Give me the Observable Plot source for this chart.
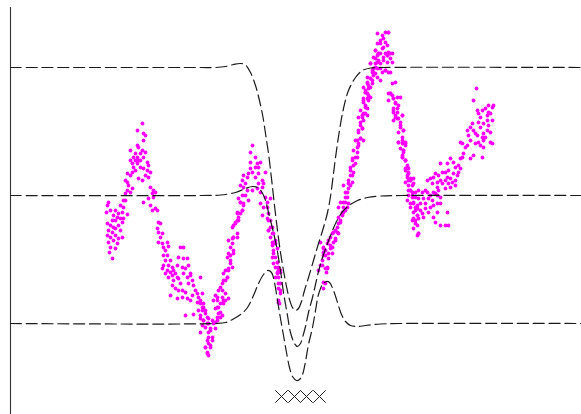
<!DOCTYPE html>
<html>
<head>
<meta charset="utf-8">
<script src="https://cdn.jsdelivr.net/npm/d3@7"></script>
<script src="https://cdn.jsdelivr.net/npm/@observablehq/plot@0.6"></script>
<style>
  html, body { margin: 0; padding: 0; background: #fff; }
  #chart svg { display: block; }
</style>
</head>
<body>
<div id="chart"></div>
<script>
// Observations (x, y)
const obsPoints = [
  // start cluster
  [97,-10],[98,-7],[105,-15],[103,-20],[107,-22],[108,-18],[112,-17],[113,-12],[117,-19],[102,-25],[105,-25],[110,-23],[113,-23],[97,-28],[100,-30],[103,-32],[108,-30],[112,-27],[98,-35],[102,-37],[105,-33],[110,-35],[97,-40],[100,-42],[105,-40],[108,-43],[112,-42],[98,-47],[103,-45],[107,-48],[100,-52],[105,-53],[99,-57],[102,-63],
  [96,-17],[100,-15],[110,-10],[115,-5],
  // first peak
  [113,-5],[115,2],[117,5],[120,3],[122,7],[118,10],[117,13],[115,15],[117,22],[120,20],[122,23],[123,28],[122,32],[125,35],[127,32],[123,38],[125,42],[127,38],[128,35],[130,42],[132,45],[133,38],[135,43],[137,33],[138,30],[137,25],[140,23],[138,18],[133,27],[130,28],[128,17],[132,15],[127,50],[128,48],[133,55],[127,65],[132,72],[133,62],[135,60],
  [120,35],[130,35],[125,25],[135,20],[120,45],
  // descent
  [140,8],[143,5],[145,3],[142,2],[143,-2],[138,-3],[133,-7],[140,-10],[142,-15],[145,-13],[147,-15],[148,-27],[150,-28],[147,-33],[148,-37],[152,-38],[150,-42],[148,-47],[152,-48],[157,-47],[158,-51],[153,-52],[155,-55],
  // lower cluster
  [153,-60],[157,-60],[155,-65],[160,-65],[153,-70],[158,-70],[162,-72],[152,-73],[157,-75],[160,-77],[163,-75],[155,-78],[162,-80],[165,-78],[167,-82],[158,-82],[163,-85],[168,-83],[170,-88],[162,-90],[165,-93],[172,-95],[175,-97],[168,-95],[160,-100],[167,-103],[172,-102],[177,-103],[180,-105],[170,-52],[173,-52],[168,-62],[173,-63],[177,-63],[167,-70],[172,-72],[175,-73],[178,-70],[173,-78],[177,-82],[180,-80],[182,-85],[178,-88],[183,-90],[185,-95],[187,-98],[182,-100],[188,-102],[180,-78],
  // first trough
  [187,-107],[190,-108],[193,-112],[188,-115],[192,-115],[195,-118],[190,-123],[193,-125],[198,-123],[202,-125],[197,-128],[203,-128],[207,-125],[192,-130],[195,-132],[200,-133],[205,-133],[190,-137],[198,-137],[202,-142],[197,-145],[198,-148],[200,-150],[195,-152],[197,-157],[198,-160],[175,-120],[183,-119],
  // rise to second peak
  [190,-82],[192,-98],[190,-105],[193,-108],[192,-112],[195,-115],[190,-120],[193,-125],[197,-122],[198,-128],[200,-135],[198,-142],[202,-145],[200,-152],[197,-158],[195,-152],[205,-113],[207,-112],[208,-118],[210,-122],[203,-105],[207,-102],[210,-108],[213,-105],[212,-95],[215,-98],[213,-85],[217,-82],[215,-75],[218,-73],[222,-72],[220,-65],[218,-58],[223,-55],[222,-48],[223,-42],[227,-38],[225,-28],[228,-25],[227,-18],[232,-15],[233,-8],[230,-7],
  [205,-100],[208,-95],[210,-92],[207,-105],[212,-102],[213,-108],[208,-112],[210,-117],[212,-120],[207,-122],[205,-127],[215,-105],[218,-103],[212,-88],[215,-85],[217,-82],[213,-78],[218,-75],[220,-68],[217,-62],[220,-60],[223,-58],[220,-52],[218,-45],[222,-43],[223,-42],[227,-42],[222,-32],[223,-30],[225,-27],[227,-25],[228,-22],[230,-18],[227,-17],[232,-15],[233,-10],[230,-7],[228,-3],[232,0],[235,0],[238,-5],[237,5],[233,8],[230,10],[235,12],[232,15],[237,18],[233,20],[238,22],[242,23],[240,27],[245,28],[247,32],[248,28],[250,33],[245,38],[240,43],[242,50],[240,33],
  [245,18],[248,22],[252,15],[253,12],[248,12],[255,23],[252,8],[247,7],[242,5],[250,3],
  // second descent
  [255,-2],[257,-12],[258,-18],[260,-3],[260,-25],[257,-23],[262,-32],[258,-35],[263,-38],[260,-42],[265,-45],[262,-50],[267,-53],[263,-58],[265,-62],[267,-67],[263,-68],[268,-72],[270,-75],[267,-77],[265,-82],[268,-82],[270,-88],[268,-93],[270,-98],[268,-107],
  [250,-8],[252,-20],[253,-12],[257,-7],[258,-25],[260,-32],[262,-38],[258,-35],[262,-47],[265,-48],[263,-55],[262,-62],[267,-67],[265,-72],[268,-75],[267,-78],[270,-77],[268,-88],[270,-95],[268,-105],[269,-108],
  // right rise
  [308,-75],[310,-70],[312,-65],[313,-60],[315,-55],[313,-52],[317,-48],[318,-45],[320,-42],[322,-38],[323,-37],[325,-35],[327,-32],[328,-28],[330,-25],[332,-20],[333,-17],[335,-15],[337,-12],[338,-8],[333,-7],[318,-58],[322,-52],[325,-45],[328,-38],[315,-73],[317,-72],[313,-87],[315,-88],[313,-93],[322,-58],[320,-53],
  [310,-47],[313,-53],[315,-60],[318,-63],[312,-70],[317,-73],[316,-77],[313,-57],[320,-50],[323,-47],[325,-43],[327,-37],[330,-27],[328,-22],[332,-17],[333,-12],[335,-7],[337,-2],[335,3],[338,7],[340,10],[338,15],[342,20],[340,25],[343,30],[342,37],[345,38],[347,43],[348,50],[347,55],[350,57],[348,63],[352,67],[350,73],[352,78],[353,82],[355,88],[353,93],[357,97],[355,103],[358,107],[357,113],[360,117],[362,123],[363,127],[360,132],[365,137],[368,142],[365,145],[367,152],[370,155],[372,160],[375,163],[378,163],[373,148],[377,140],[380,137],
  [328,-12],[330,-7],[335,-2],[337,3],[333,10],[338,12],[342,13],[340,20],[343,23],[340,28],[345,32],[342,35],[347,38],[343,45],[347,48],[348,52],[345,55],[350,57],[353,55],[348,65],[352,67],[350,70],[353,75],[352,80],[355,82],[348,78],[357,87],[355,90],[353,97],[358,95],[360,98],[357,102],[355,105],[353,108],[358,110],[362,112],[360,117],[357,118],[363,120],[365,122],[362,125],[367,127],[365,132],[368,135],[367,140],[370,142],[373,138],[377,140],[380,142],[372,123],[375,125],[378,123],[382,112],[380,102],[383,97],[383,85],[385,78],
  // top peak
  [367,162],[378,163],[370,152],[373,157],[375,153],[377,150],[372,147],[365,145],[368,142],[375,142],[378,143],[382,142],[363,138],[367,133],[370,132],[373,135],[377,133],[382,133],[360,132],[365,128],[370,127],[375,125],[380,123],[363,123],[367,118],[362,115],[370,115],[357,112],[360,108],[355,103],[358,100],[353,95],[350,85],[352,80],[357,80],[385,113],[380,102],[378,95],[385,92],[387,87],[383,83],[392,80],[387,77],[390,68],[393,65],[392,55],[388,53],[395,52],[393,45],[392,40],[395,35],[397,28],[398,22],[400,15],[395,13],[403,12],[398,5],[402,3],
  // right descent
  [378,102],[382,100],[383,97],[387,98],[385,93],[388,90],[383,87],[387,83],[385,80],[388,77],[383,75],[390,70],[388,63],[388,53],[392,52],[390,47],[395,50],[393,43],[392,38],[395,35],[397,30],[395,27],[398,23],[397,18],[400,15],[398,10],[400,5],[402,0],[403,-7],[400,-8],[405,-12],[407,-13],[403,-17],[407,-20],[405,-25],[407,-30],[408,-38],
  // right trough
  [390,98],[392,80],[390,73],[393,65],[392,58],[395,53],[393,45],[392,38],[395,35],[397,28],[398,27],[395,25],[397,20],[400,17],[398,15],[403,17],[402,10],[400,5],[405,3],[408,5],[412,3],[415,5],[417,3],[420,0],[423,3],[425,2],[402,-2],[405,-2],[408,-3],[413,-3],[418,-3],[422,-5],[403,-8],[407,-10],[410,-8],[415,-8],[420,-12],[423,-10],[427,-8],[400,-12],[405,-15],[410,-15],[415,-13],[418,-17],[412,-18],[407,-20],[403,-23],[402,-25],[408,-23],[413,-22],[423,-22],[425,-27],[430,-30],[435,-30],[438,-30],[427,-17],[437,-17],[405,-28],[403,-33],[408,-38],[407,-40],[397,-5],[398,0],[430,-8],
  // final rise
  [417,15],[420,17],[423,18],[425,22],[428,20],[422,12],[427,13],[430,15],[432,12],[435,15],[437,18],[440,17],[438,12],[442,13],[445,15],[447,20],[443,22],[448,23],[450,27],[448,30],[445,28],[443,33],[440,37],[438,25],[435,7],[440,8],[445,10],[450,37],[452,38],[453,42],[455,48],[457,50],[452,52],[450,53],[458,60],[457,65],[460,68],[462,72],[463,65],[465,62],[467,60],[460,55],[465,52],[468,53],[470,50],[473,55],[472,58],[473,62],[477,65],[470,68],[468,73],[473,72],[470,78],[477,75],[478,70],[480,63],[480,53],[473,48],[472,38],[460,37],[463,40],[468,82],[472,85],[475,87],[478,83],[480,82],[482,88],[483,90],[477,80],[482,75],[478,90],[463,95],[466,107],[467,85],[482,52],[475,58],[430,32],[437,32],[432,23],[435,23],[427,8],[427,0],[430,-2],[428,5]
];

// Posterior mean
const meanCurve = [
  [0,0],[190,0],[210,0.5],[225,3],[235,7],[242,9],[247,8],[251,4],[255,-5],[258,-17],[262,-33],[266,-51],[270,-75],[273,-97],[277,-120],[280,-137],[284,-148],[287,-151],[290,-148],[292,-142],[295,-131],[298,-117],[302,-102],[305,-89],[308,-76],[312,-62],[317,-48],[322,-35],[327,-24],[333,-15],[340,-9],[347,-5],[357,-2],[370,-0.5],[390,0],[571,0]
];
// Upper bound
const upperCurve = [
  [0,128],[190,128],[205,128],[215,129],[223,131],[230,132],[235,130.5],[240,123],[245,110],[248,99],[252,81],[255,62],[258,42],[261,17],[264,-10],[267,-35],[270,-57],[273,-75],[276,-91],[279,-104],[282,-112],[285,-115],[288,-113],[291,-106],[294,-95],[298,-82],[303,-65],[308,-48],[313,-32],[317,-17],[320,-1],[324,30],[328,59],[333,87],[338,105],[345,118],[352,125],[360,127.5],[370,128],[571,128]
];
// Lower bound
const lowerCurve = [
  [0,-128],[205,-128],[215,-127],[222,-124],[230,-119],[237,-112],[243,-100],[248,-88],[253,-79],[257,-75],[261,-77],[264,-87],[267,-105],[270,-123],[273,-140],[276,-157],[279,-172],[282,-181],[286,-185],[289,-184],[292,-179],[295,-166],[298,-149],[302,-132],[305,-115],[308,-99],[312,-89],[316,-86],[319,-87],[323,-95],[327,-107],[331,-119],[335,-126],[340,-130],[347,-131],[355,-130],[370,-128.5],[390,-128],[571,-128]
];
// Inducing points
const inducingX = [271, 284, 296, 309];
const inducingY = [-201, -201, -201, -201];

const obs = obsPoints.map(([x, y]) => ({x, y}));
const toRows = (arr) => arr.map(([x, y]) => ({x, y}));
const inducing = inducingX.map((x, i) => ({x, y: inducingY[i]}));

const dash = {stroke: "#1a1a1a", strokeWidth: 1.2, strokeDasharray: "11,4.8", curve: "catmull-rom"};

const chart = Plot.plot({
  width: 581,
  height: 414,
  marginLeft: 10,
  marginRight: 0,
  marginTop: 7,
  marginBottom: 0,
  x: {domain: [0, 571], axis: null},
  y: {domain: [-219, 188], axis: null},
  marks: [
    Plot.ruleX([0], {stroke: "#333", strokeWidth: 1.1}),
    Plot.dot(obs, {x: "x", y: "y", r: 1.9, fill: "#ff00ff", stroke: null}),
    Plot.line(toRows(upperCurve), {x: "x", y: "y", ...dash}),
    Plot.line(toRows(meanCurve), {x: "x", y: "y", ...dash}),
    Plot.line(toRows(lowerCurve), {x: "x", y: "y", ...dash}),
    Plot.dot(inducing, {x: "x", y: "y", symbol: "times", r: 5.7, stroke: "#222", strokeWidth: 1})
  ]
});
document.getElementById("chart").append(chart);
</script>
</body>
</html>
